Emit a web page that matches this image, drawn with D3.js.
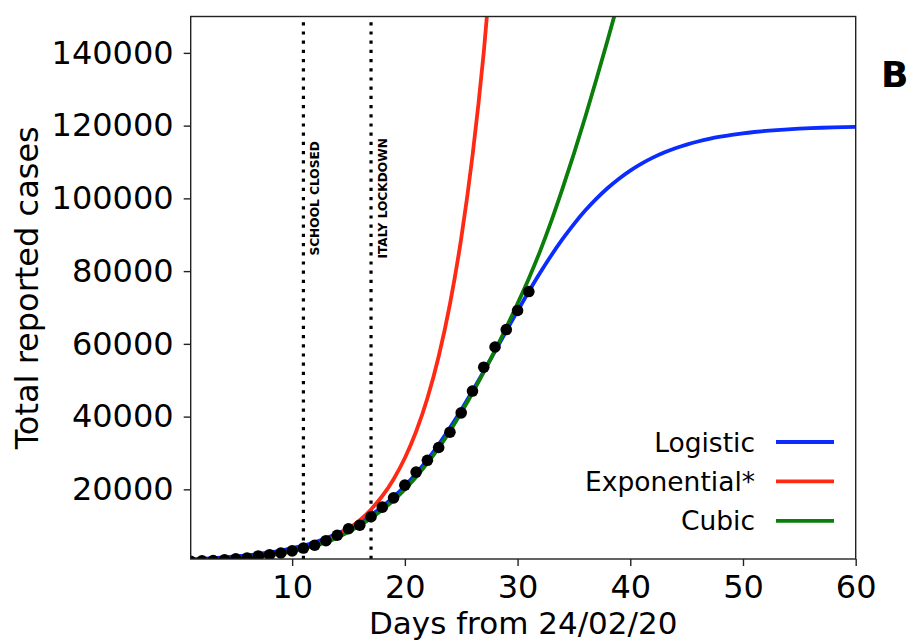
<!DOCTYPE html>
<html lang="en">
<head>
<meta charset="utf-8" />
<title>Total reported cases</title>
<script src="https://cdn.jsdelivr.net/npm/d3@7"></script>
<style>
  body { margin: 0; background: #fff; }
  text { font-family: "DejaVu Sans", sans-serif; fill: #000; }
</style>
</head>
<body>
<script>
// Values
var days = [1,2,3,4,5,6,7,8,9,10,11,12,13,14,15,16,17,18,19,20,21,22,23,24,25,26,27,28,29,30,31];
var cases = [229,322,400,650,888,1128,1694,2036,2502,3089,3858,4636,5883,7375,9172,10149,12462,15113,17660,21157,
  24747,27980,31506,35713,41035,47021,53578,59138,63927,69176,74386];

var logisticDays = [1,2,3,4,5,6,7,8,9,10,11,12,13,14,15,16,17,18,19,20,21,22,23,24,25,26,27,28,29,30,
  31,32,33,34,35,36,37,38,39,40,41,42,43,44,45,46,47,48,49,50,51,52,53,54,55,56,57,58,59,60];
var logisticVals = [735,885,1064,1279,1536,1846,2216,2657,3183,3812,4564,5462,6519,7766,9231,10943,12938,15246,17897,20917,
  24326,28130,32328,36900,41812,47022,52425,57971,63539,69053,74414,79539,84364,88843,92936,96634,99933,102854,105411,107633,
  109549,111193,112591,113787,114789,115641,116358,116959,117463,117890,118242,118537,118782,118987,119158,119300,119418,119517,119598,119666];

var expDays = [1,2,3,4,5,6,7,8,9,10,11,12,13,14,15,16,17,18,19,20,21,22,23,24,25,26,27,28];
var expVals = [383,481,604,757,950,1193,1496,1878,2356,2957,3710,4655,5841,7330,9197,11540,14480,18170,22800,28610,
  35900,45050,56530,70930,89000,111680,140140,175850];

var cubicDays = [1,2,3,4,5,6,7,8,9,10,11,12,13,14,15,16,17,18,19,20,21,22,23,24,25,26,27,28,29,30,
  31,32,33,34,35,36,37,38,39];
var cubicVals = [230,320,450,630,860,1150,1500,1920,2420,3000,3700,4500,5500,6700,8300,10100,12100,14400,17000,20000,
  23400,27200,31400,36000,41100,46500,52200,58200,64500,71100,78000,85500,93800,102800,112300,122300,132800,143600,154800];

var xTicks = [10, 20, 30, 40, 50, 60];
var yTicks = [20000, 40000, 60000, 80000, 100000, 120000, 140000];

var events = ["SCHOOL CLOSED", "ITALY LOCKDOWN"];
var eventDays = [11, 17];

var seriesNames = ["Logistic", "Exponential*", "Cubic"];
var seriesColors = ["#0a2cff", "#ff2a14", "#0a7d0a"];

var width = 910, height = 644;

var svg = d3.select("body").append("svg")
    .attr("width", width)
    .attr("height", height);

var x = d3.scaleLinear().domain([1, 60]).range([190.7, 855.7]);
var y = d3.scaleLinear().domain([850, 150000]).range([559, 16.5]);

svg.append("clipPath").attr("id", "plot-clip")
  .append("rect")
    .attr("x", x.range()[0])
    .attr("y", y.range()[1])
    .attr("width", x.range()[1] - x.range()[0])
    .attr("height", y.range()[0] - y.range()[1]);

// axes
var xAxis = svg.append("g")
    .attr("transform", "translate(0," + y.range()[0] + ")")
    .call(d3.axisBottom(x).tickValues(xTicks).tickSize(7).tickPadding(9).tickFormat(d3.format("d")));
var yAxis = svg.append("g")
    .attr("transform", "translate(" + x.range()[0] + ",0)")
    .call(d3.axisLeft(y).tickValues(yTicks).tickSize(7).tickPadding(10).tickFormat(d3.format("d")));

[xAxis, yAxis].forEach(function(a) {
  a.select(".domain").remove();
  a.selectAll(".tick line").attr("stroke", "#222").attr("stroke-width", 1.4);
  a.selectAll(".tick text").style("font-family", "DejaVu Sans").style("font-size", "32px").attr("fill", "#000");
});

svg.append("text")
    .attr("x", (x.range()[0] + x.range()[1]) / 2)
    .attr("y", 634)
    .attr("text-anchor", "middle")
    .style("font-size", "31px")
    .text("Days from 24/02/20");

svg.append("text")
    .attr("transform", "translate(38," + (y.range()[0] + y.range()[1]) / 2 + ") rotate(-90)")
    .attr("text-anchor", "middle")
    .style("font-size", "32px")
    .text("Total reported cases");

var plot = svg.append("g").attr("clip-path", "url(#plot-clip)");

// event markers
plot.selectAll(".event")
  .data(eventDays)
  .enter().append("line")
    .attr("class", "event")
    .attr("x1", function(d) { return x(d); })
    .attr("x2", function(d) { return x(d); })
    .attr("y1", y.range()[0])
    .attr("y2", y.range()[1])
    .attr("stroke", "#000")
    .attr("stroke-width", 3.2)
    .attr("stroke-dasharray", "3.2,6");

svg.selectAll(".event-label")
  .data(eventDays)
  .enter().append("text")
    .attr("class", "event-label")
    .attr("transform", function(d) { return "translate(" + x(d + 1.05) + "," + y(100000) + ") rotate(-90)"; })
    .attr("text-anchor", "middle")
    .attr("dominant-baseline", "central")
    .style("font-size", "12.2px")
    .style("font-weight", "bold")
    .text(function(d, i) { return events[i]; });

// fitted curves
var line = d3.line()
    .x(function(d) { return x(d[0]); })
    .y(function(d) { return y(d[1]); })
    .curve(d3.curveMonotoneX);

var curves = [d3.zip(logisticDays, logisticVals), d3.zip(expDays, expVals), d3.zip(cubicDays, cubicVals)];

plot.selectAll(".fit")
  .data(curves)
  .enter().append("path")
    .attr("class", "fit")
    .attr("d", line)
    .attr("fill", "none")
    .attr("stroke", function(d, i) { return seriesColors[i]; })
    .attr("stroke-width", 3.8);

// reported cases
plot.selectAll(".pt")
  .data(d3.zip(days, cases))
  .enter().append("circle")
    .attr("class", "pt")
    .attr("cx", function(d) { return x(d[0]); })
    .attr("cy", function(d) { return y(d[1]); })
    .attr("r", 5.8)
    .attr("fill", "#000");

// frame
svg.append("rect")
    .attr("x", x.range()[0])
    .attr("y", y.range()[1])
    .attr("width", x.range()[1] - x.range()[0])
    .attr("height", y.range()[0] - y.range()[1])
    .attr("fill", "none")
    .attr("stroke", "#222")
    .attr("stroke-width", 1.4);

// legend
var legend = svg.append("g").attr("transform", "translate(0,442)");
var rows = legend.selectAll(".row")
  .data(seriesNames)
  .enter().append("g")
    .attr("transform", function(d, i) { return "translate(0," + i * 39.4 + ")"; });
rows.append("text")
    .attr("x", 755)
    .attr("dy", "0.36em")
    .attr("text-anchor", "end")
    .style("font-size", "26.5px")
    .text(function(d) { return d; });
rows.append("line")
    .attr("x1", 776).attr("x2", 834)
    .attr("stroke", function(d, i) { return seriesColors[i]; })
    .attr("stroke-width", 3.8);

// panel letter
svg.append("text")
    .attr("x", 881)
    .attr("y", 87)
    .style("font-size", "36px")
    .style("font-weight", "bold")
    .text("B");
</script>
</body>
</html>
